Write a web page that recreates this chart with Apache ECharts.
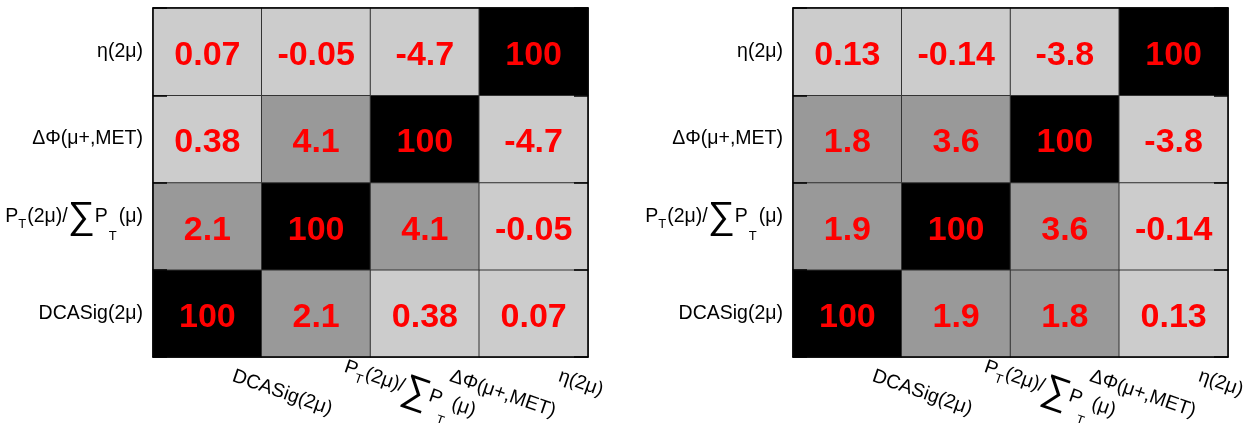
<!DOCTYPE html>
<html><head><meta charset="utf-8">
<script src="https://cdn.jsdelivr.net/npm/echarts@6/dist/echarts.min.js"></script>
<style>html,body{margin:0;padding:0;background:#fff}#c{width:1246px;height:423px}</style>
</head><body><div id="c"></div>
<script>
// Categories (bottom-to-top for y, left-to-right for x)
const categories = ['DCASig(2μ)', 'PT(2μ)/∑PT(μ)', 'ΔΦ(μ+,MET)', 'η(2μ)'];

// Left matrix rows (y category), values per x category
const leftDCASig = [100, 2.1, 0.38, 0.07];
const leftPT     = [2.1, 100, 4.1, -0.05];
const leftDPhi   = [0.38, 4.1, 100, -4.7];
const leftEta    = [0.07, -0.05, -4.7, 100];

// Right matrix rows
const rightDCASig = [100, 1.9, 1.8, 0.13];
const rightPT     = [1.9, 100, 3.6, -0.14];
const rightDPhi   = [1.8, 3.6, 100, -3.8];
const rightEta    = [0.13, -0.14, -3.8, 100];

const leftRows = [leftDCASig, leftPT, leftDPhi, leftEta];
const rightRows = [rightDCASig, rightPT, rightDPhi, rightEta];

function toData(rows) {
  const out = [];
  rows.forEach((row, yi) => row.forEach((v, xi) => out.push([xi, yi, v])));
  return out;
}

const FONT = '"Liberation Sans", Arial, sans-serif';

function fmtCat(name) {
  if (name === 'PT(2μ)/∑PT(μ)') {
    return '{p1|P}{s1|T}{p1|(2μ)/}{sum|∑}{p1|P}{s2|T}{p1|(μ)}';
  }
  return '{p|' + name + '}';
}
const rich = {
  p: { fontSize: 19.5, fontFamily: FONT, color: '#000' },
  p1: { fontSize: 19.5, fontFamily: FONT, color: '#000', padding: [0, 0, 20, 0] },
  s1: { fontSize: 13, fontFamily: FONT, color: '#000', padding: [0, 1, 4, 0] },
  s2: { fontSize: 13, fontFamily: FONT, color: '#000', padding: [21, 2, 0, 1] },
  sum: { fontSize: 38, fontFamily: FONT, color: '#000', padding: [0, 0, 17, 0] }
};

const grids = [
  { left: 153, top: 8, width: 435, height: 349, outerBoundsMode: 'none', containLabel: false },
  { left: 793, top: 8, width: 435, height: 349, outerBoundsMode: 'none', containLabel: false }
];

const xAxes = [], yAxes = [];
[0, 1].forEach(g => {
  xAxes.push({
    type: 'category', data: categories, gridIndex: g, position: 'bottom', z: 10,
    axisLine: { show: true, lineStyle: { color: '#000', width: 1.5 } },
    axisTick: { show: false },
    axisLabel: { rotate: -19, margin: 10, padding: [0, 0, 0, 27], formatter: fmtCat, rich: rich, interval: 0 },
    splitLine: { show: false }
  });
  xAxes.push({
    type: 'category', data: categories, gridIndex: g, position: 'top', z: 10,
    axisLine: { show: true, lineStyle: { color: '#000', width: 1.5 } },
    axisTick: { show: false }, axisLabel: { show: false }, splitLine: { show: false }
  });
  yAxes.push({
    type: 'category', data: categories, gridIndex: g, position: 'left', z: 10,
    axisLine: { show: true, lineStyle: { color: '#000', width: 1.5 } },
    axisTick: { show: true, inside: true, length: 14, lineStyle: { color: '#000', width: 1.5 } },
    axisLabel: { margin: 10, formatter: fmtCat, rich: rich, interval: 0 },
    splitLine: { show: false }
  });
  yAxes.push({
    type: 'category', data: categories, gridIndex: g, position: 'right', z: 10,
    axisLine: { show: true, lineStyle: { color: '#000', width: 1.5 } },
    axisTick: { show: true, inside: true, length: 14, lineStyle: { color: '#000', width: 1.5 } },
    axisLabel: { show: false }, splitLine: { show: false }
  });
});

const seriesLabel = {
  show: true, color: '#ff0000', fontSize: 34, fontWeight: 'bold', fontFamily: FONT,
  offset: [0, 4],
  formatter: p => String(p.value[2])
};

const option = {
  animation: false,
  backgroundColor: '#fff',
  grid: grids,
  xAxis: xAxes,
  yAxis: yAxes,
  visualMap: {
    type: 'piecewise', show: false, dimension: 2, seriesIndex: [0, 1],
    pieces: [
      { lt: 1, color: '#cccccc' },
      { gte: 1, lt: 50, color: '#999999' },
      { gte: 50, color: '#000000' }
    ]
  },
  series: [
    { type: 'heatmap', xAxisIndex: 0, yAxisIndex: 0, data: toData(leftRows),
      itemStyle: { borderColor: '#333', borderWidth: 1 }, label: seriesLabel },
    { type: 'heatmap', xAxisIndex: 2, yAxisIndex: 2, data: toData(rightRows),
      itemStyle: { borderColor: '#333', borderWidth: 1 }, label: seriesLabel }
  ]
};

const chart = echarts.init(document.getElementById('c'), null, { renderer: 'canvas' });
chart.setOption(option);
</script>
</body></html>
